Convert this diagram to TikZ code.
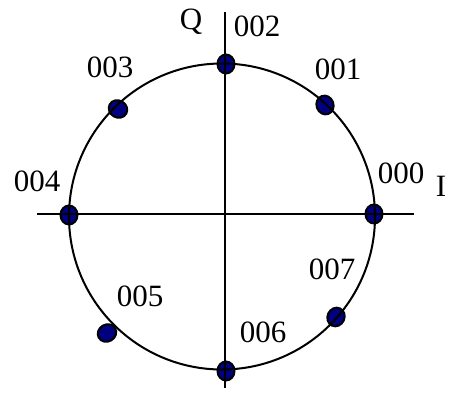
\documentclass[tikz,border=0pt]{standalone}
\usepackage{fontspec}
\setmainfont{Liberation Serif}
\usetikzlibrary{shapes.geometric}
\definecolor{dotblue}{RGB}{0,0,128}
\tikzset{
  dot/.style={ellipse, draw=black, line width=2pt, fill=dotblue, minimum width=17pt, minimum height=19pt, inner sep=0pt},
  lbl/.style={font=\fontsize{31}{35}\selectfont, inner sep=0pt},
  ln/.style={line width=2pt, black}
}
\begin{document}
\begin{tikzpicture}[x=1pt,y=-1pt]
\useasboundingbox (0,0) rectangle (450,415);
% dots
\node[dot] (d000) at (374,214) {};
\node[dot, rotate=20] (d001) at (325,105) {};
\node[dot] (d002) at (226,64) {};
\node[dot, rotate=60] (d003) at (118,109) {};
\node[dot] (d004) at (69,215) {};
\node[dot, rotate=-60] (d005) at (107,333) {};
\node[dot] (d006) at (226,371) {};
\node[dot, rotate=-25] (d007) at (336,317) {};
% circle and axes
\coordinate (c) at (222,216.5);
\coordinate (xl) at (37,214);
\coordinate (xr) at (414,214);
\coordinate (yt) at (225,12);
\coordinate (yb) at (225,388);
\draw[ln] (c) circle[radius=153];
\draw[ln] (xl) -- (xr);
\draw[ln] (yt) -- (yb);
% labels
\node[lbl] (q) at (191,22) {Q};
\node[lbl] (i) at (441,186) {I};
\node[lbl] (l000) at (401,173) {000};
\node[lbl] (l001) at (338,69) {001};
\node[lbl] (l002) at (257,26) {002};
\node[lbl] (l003) at (110,67) {003};
\node[lbl] (l004) at (37,181) {004};
\node[lbl] (l005) at (140,296) {005};
\node[lbl] (l006) at (263,332) {006};
\node[lbl] (l007) at (332,269) {007};
\end{tikzpicture}
\end{document}
